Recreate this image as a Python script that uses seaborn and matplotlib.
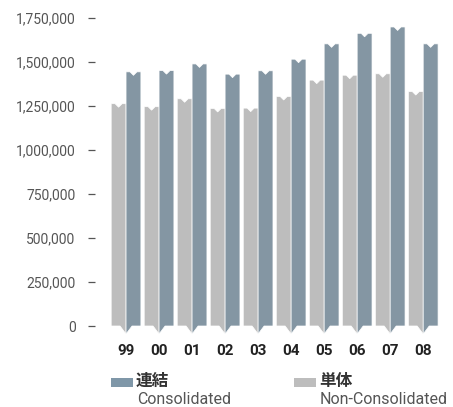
import numpy as np
import pandas as pd
import matplotlib
matplotlib.use("Agg")
import matplotlib.pyplot as plt
from matplotlib.colors import to_hex
from matplotlib.patches import Polygon, Rectangle
import seaborn as sns

sns.set_theme(style="white")
plt.rcParams['font.family'] = ['Roboto', 'Noto Sans CJK JP', 'DejaVu Sans']

# データ
years = ['99', '00', '01', '02', '03', '04', '05', '06', '07', '08']
consolidated = [1444000, 1451000, 1489000, 1431000, 1450000, 1516000, 1603000, 1663000, 1699000, 1603000]
non_consolidated = [1263000, 1246000, 1291000, 1236000, 1238000, 1304000, 1397000, 1425000, 1433000, 1332000]
yticks = [0, 250000, 500000, 750000, 1000000, 1250000, 1500000, 1750000]

col_cons = '#7f97a8'
col_non = '#bdbdbd'

df = pd.DataFrame({
    'year': years * 2,
    'kind': ['non'] * len(years) + ['cons'] * len(years),
    'value': non_consolidated + consolidated,
})

fig = plt.figure(figsize=(4.53, 4.07), dpi=100)
ax = fig.add_axes([95 / 453, 1 - 326 / 407, 350 / 453, 308 / 407])

sns.barplot(data=df, x='year', y='value', hue='kind', hue_order=['non', 'cons'],
            palette={'non': col_non, 'cons': col_cons}, width=0.9, gap=0,
            ax=ax, legend=False, errorbar=None)

ax.set_ylim(0, 1750000)
ax.set_xlim(-0.94, 9.66)

# ピクセル→データ単位
px_x = 1 / 33.0
px_y = 1750000 / 308.0
notch_w = 3.5 * px_x
notch_d = 3.5 * px_y
v_w = 6 * px_x
v_d = 8 * px_y

# 棒の形を変える（上に切り込み、下に矢印）
for p in list(ax.patches):
    x, w, h = p.get_x(), p.get_width(), p.get_height()
    if h <= 0:
        continue
    fc = p.get_facecolor()
    cx = x + w / 2
    top = [(x + w, h), (cx + notch_w, h), (cx, h - notch_d), (cx - notch_w, h), (x, h)]
    if to_hex(fc) == col_non:
        pts = [(x, 0), (x + w - v_w, 0), (x + w, -v_d)] + top
    else:
        pts = [(x, -v_d), (x + v_w, 0), (x + w, 0)] + top
    ax.add_patch(Polygon(pts, closed=True, facecolor=fc, edgecolor='white',
                         linewidth=0.5, clip_on=False))
    p.remove()

ax.set_yticks(yticks)
ax.set_yticklabels([f'{v:,}' for v in yticks], fontsize=10, color='#555555')
ax.tick_params(axis='y', direction='out', length=5, width=0.9, color='#555555', pad=9, left=True)
ax.tick_params(axis='x', length=0, pad=13)
for lab in ax.get_xticklabels():
    lab.set_fontweight('bold')
    lab.set_fontsize(11)
    lab.set_color('#222222')
ax.set_xlabel('')
ax.set_ylabel('')
for s in ax.spines.values():
    s.set_visible(False)
ax.grid(False)

# 凡例
def fx(px):
    return px / 453

def fy(py):
    return 1 - py / 407

fig.patches.append(Rectangle((fx(111), fy(387)), fx(22), 9 / 407, transform=fig.transFigure,
                             facecolor=col_cons, edgecolor='none'))
fig.text(fx(136), fy(381), '連結', fontsize=12, fontweight='bold', color='#333333', va='center',
         family=['Noto Sans CJK JP'])
fig.text(fx(137), fy(399), 'Consolidated', fontsize=11.5, color='#555555', va='center')

fig.patches.append(Rectangle((fx(294), fy(387)), fx(22), 9 / 407, transform=fig.transFigure,
                             facecolor=col_non, edgecolor='none'))
fig.text(fx(319), fy(381), '単体', fontsize=12, fontweight='bold', color='#333333', va='center',
         family=['Noto Sans CJK JP'])
fig.text(fx(320), fy(399), 'Non-Consolidated', fontsize=11.5, color='#555555', va='center')

fig.savefig('out.png', dpi=100)
